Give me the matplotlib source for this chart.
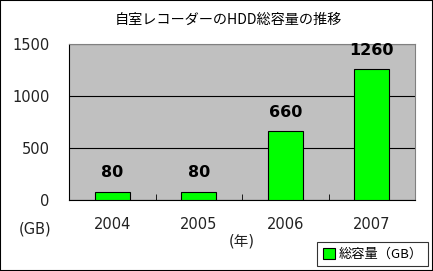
import numpy as np
import matplotlib.pyplot as plt

plt.rcParams['font.family'] = ['Noto Sans CJK JP', 'DejaVu Sans']
num_font = ['DejaVu Sans', 'Noto Sans CJK JP']

years = ['2004', '2005', '2006', '2007']
capacity = [80, 80, 660, 1260]

fig = plt.figure(figsize=(4.33, 2.71), dpi=100)
ax = fig.add_axes([69/433, 1 - 200/271, 346/433, 156/271])
ax.set_facecolor('#c0c0c0')

x = np.arange(len(years))
bars = ax.bar(x, capacity, width=0.4, color='#00ff00', edgecolor='black', linewidth=0.8,
              label='総容量（GB）', zorder=3)
for xi, v in zip(x, capacity):
    ax.text(xi, v + 110, str(v), ha='center', va='bottom', fontsize=11.5,
            fontweight='bold', family=num_font, zorder=4)

ax.set_xlim(-0.5, 3.5)
ax.set_ylim(0, 1500)
ax.set_yticks([0, 500, 1000, 1500])
ax.yaxis.grid(True, color='black', linewidth=0.8, zorder=1)
ax.tick_params(axis='y', length=0, labelsize=10.5, pad=14, colors='#222222')
ax.set_xticks(x)
ax.set_xticklabels(years)
ax.tick_params(axis='x', length=0, labelsize=10.5, pad=12, colors='#222222')
for lab in ax.get_xticklabels() + ax.get_yticklabels():
    lab.set_family(num_font)
ax.set_xticks([0.5, 1.5, 2.5], minor=True)
ax.tick_params(axis='x', which='minor', length=4, direction='in', color='black')

for s in ['top', 'right']:
    ax.spines[s].set_color('#808080')
for s in ['left', 'bottom']:
    ax.spines[s].set_color('black')

fig.text(228/433, 1 - 20/271, '自室レコーダーのHDD総容量の推移', ha='center', va='center', fontsize=10.2)
fig.text(35/433, 1 - 229/271, '(GB)', ha='center', va='center', fontsize=10.5,
         color='#222222', family=num_font)
fig.text(242/433, 1 - 241/271, '(年)', ha='center', va='center', fontsize=10.5,
         color='#222222', family=num_font)

leg = fig.legend(loc='lower right', bbox_to_anchor=(428/433, 5/271), fontsize=9.5,
                 frameon=True, fancybox=False, handlelength=0.9, handleheight=0.9,
                 handletextpad=0.3, borderpad=0.4, borderaxespad=0)
leg.get_frame().set_edgecolor('black')
leg.get_frame().set_linewidth(0.8)

fig.patches.append(plt.Rectangle((0, 0), 1, 1, transform=fig.transFigure, fill=False,
                                 edgecolor='black', linewidth=1.5))

fig.savefig('out.png', dpi=100)
